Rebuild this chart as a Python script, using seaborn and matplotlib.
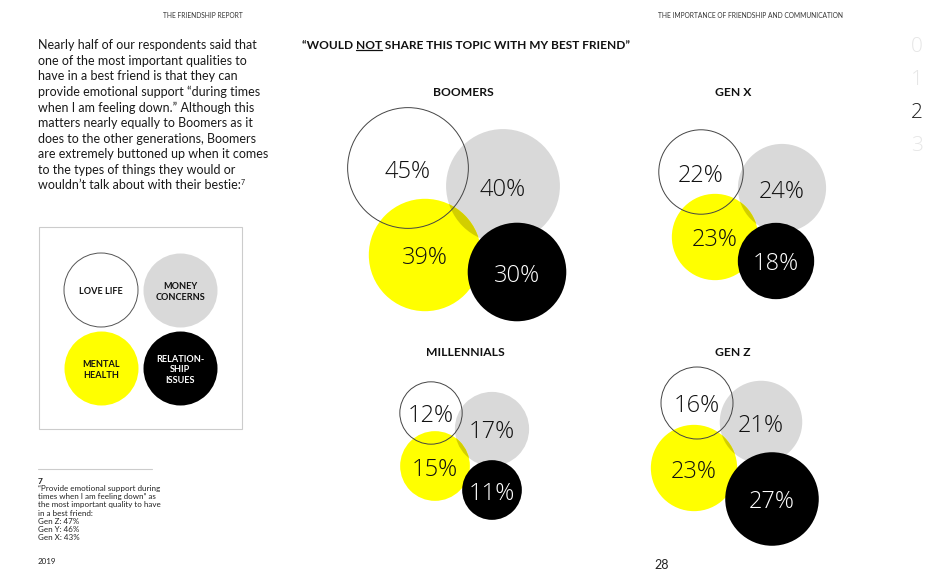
import matplotlib
matplotlib.use('Agg')
import matplotlib.pyplot as plt
from matplotlib.path import Path
import seaborn as sns
import pandas as pd

# --- data -------------------------------------------------------------
generations = ['BOOMERS', 'GEN X', 'MILLENNIALS', 'GEN Z']
topics = ['LOVE LIFE', 'MONEY CONCERNS', 'MENTAL HEALTH', 'RELATIONSHIP ISSUES']
love_life = [45, 22, 12, 16]
money_concerns = [40, 24, 17, 21]
mental_health = [39, 23, 15, 23]
relationship_issues = [30, 18, 11, 27]
legend_labels = ['LOVE LIFE', 'MONEY\nCONCERNS', 'MENTAL\nHEALTH', 'RELATION-\nSHIP\nISSUES']

intro_lines = [
    'Nearly half of our respondents said that',
    'one of the most important qualities to',
    'have in a best friend is that they can',
    'provide emotional support \u201cduring times',
    'when I am feeling down.\u201d Although this',
    'matters nearly equally to Boomers as it',
    'does to the other generations, Boomers',
    'are extremely buttoned up when it comes',
    'to the types of things they would or',
    'wouldn\u2019t talk about with their bestie:',
]
footnote_lines = [
    '\u201cProvide emotional support during',
    'times when I am feeling down\u201d as',
    'the most important quality to have',
    'in a best friend:',
    'Gen Z: 47%',
    'Gen Y: 46%',
    'Gen X: 43%',
]

# --- layout (pixel space, y downwards) --------------------------------
panel_title_xy = {'BOOMERS': (463, 92), 'GEN X': (733, 92),
                  'MILLENNIALS': (465, 353), 'GEN Z': (733, 353)}
# circle offsets from the panel title, one per topic slot
slot_offsets = {
    'BOOMERS': [(-55, 76), (40, 94), (-38, 163), (54, 180)],
    'GEN X': [(-32, 80), (49, 96), (-18, 145), (43, 169)],
    'MILLENNIALS': [(-34, 60), (27, 76), (-30, 113), (27, 137)],
    'GEN Z': [(-36, 50), (28, 69), (-39, 115), (39, 146)],
}
legend_xy = [(101, 290), (180, 290), (101, 368), (180, 368)]
K = 9.0                       # px of radius per sqrt(percent)
PT = 72 / 100                 # points per pixel at dpi 100
S_PER_PCT = (2 * K * PT) ** 2  # marker area (pt^2) per percent

GRAY, YELLOW, OLIVE, BLACK = '#d9d9d9', '#ffff00', '#d2ce00', '#000000'
FONT = ['Lato', 'DejaVu Sans']
THIN = ['Open Sans', 'DejaVu Sans']

values = {'LOVE LIFE': love_life, 'MONEY CONCERNS': money_concerns,
          'MENTAL HEALTH': mental_health, 'RELATIONSHIP ISSUES': relationship_issues}
rows = []
for gi, g in enumerate(generations):
    tx, ty = panel_title_xy[g]
    for ti, t in enumerate(topics):
        dx, dy = slot_offsets[g][ti]
        rows.append({'generation': g, 'topic': t, 'value': values[t][gi],
                     'x': tx + dx, 'y': ty + dy})
df = pd.DataFrame(rows)

sns.set_theme(style='white')
plt.rcParams['font.family'] = FONT

fig = plt.figure(figsize=(9.4, 5.87), dpi=100)
ax = fig.add_axes([0, 0, 1, 1])
ax.set_xlim(0, 940)
ax.set_ylim(587, 0)
ax.axis('off')


def bubbles(topic, color, z):
    sub = df[df.topic == topic]
    sns.scatterplot(data=sub, x='x', y='y', size='value', sizes=(0, S_PER_PCT * 50),
                    size_norm=(0, 50), color=color, linewidth=0, legend=False,
                    ax=ax, zorder=z)
    return ax.collections[-1]


bubbles('MONEY CONCERNS', GRAY, 2)
bubbles('MENTAL HEALTH', YELLOW, 3)
# darker tint where yellow lies over gray
overlap = bubbles('MENTAL HEALTH', OLIVE, 4)
gray_rows = df[df.topic == 'MONEY CONCERNS']
clip = Path.make_compound_path(*[Path.circle((r.x, r.y), K * r.value ** 0.5)
                                 for r in gray_rows.itertuples()])
overlap.set_clip_path(clip, ax.transData)
bubbles('RELATIONSHIP ISSUES', BLACK, 5)
ring = bubbles('LOVE LIFE', 'k', 6)
ring.set_facecolor('none')
ring.set_edgecolor('#444444')
ring.set_linewidth(0.7)

for r in df.itertuples():
    ax.text(r.x, r.y + 9.5, f'{r.value}%', ha='center', va='baseline', fontsize=17,
            family=THIN, fontweight='light', zorder=7,
            color='white' if r.topic == 'RELATIONSHIP ISSUES' else '#111111')

for g in generations:
    tx, ty = panel_title_xy[g]
    ax.text(tx, ty, g, ha='center', va='center', fontsize=8.7, fontweight='bold',
            color='#111111')

# title with underlined NOT
TS = 8.6
t1 = ax.text(302, 49, '\u201cWOULD ', ha='left', va='baseline', fontsize=TS,
             fontweight='bold', color='#111111')
t2 = ax.annotate('NOT', xy=(1, 0), xycoords=t1, ha='left', va='bottom',
                 fontsize=TS, fontweight='bold', color='#111111')
t3 = ax.annotate(' SHARE THIS TOPIC WITH MY BEST FRIEND\u201d', xy=(1, 0), xycoords=t2,
                 ha='left', va='bottom', fontsize=TS, fontweight='bold', color='#111111')

# legend box
ax.add_patch(plt.Rectangle((39, 227), 203, 202, fill=False, edgecolor='#cccccc',
                           linewidth=0.8))
leg = pd.DataFrame({'x': [p[0] for p in legend_xy], 'y': [p[1] for p in legend_xy],
                    'topic': topics})
leg_colors = ['none', GRAY, YELLOW, BLACK]
for i in range(4):
    sns.scatterplot(data=leg.iloc[[i]], x='x', y='y', s=(2 * 37 * PT) ** 2,
                    color=leg_colors[i] if i else 'k', linewidth=0, legend=False, ax=ax,
                    zorder=2)
    if i == 0:
        c = ax.collections[-1]
        c.set_facecolor('none')
        c.set_edgecolor('#555555')
        c.set_linewidth(0.7)
    ax.text(legend_xy[i][0], legend_xy[i][1] + 2, legend_labels[i], ha='center',
            va='center', fontsize=6.6, fontweight='bold', linespacing=1.25, zorder=3,
            color='white' if i == 3 else '#111111')

# intro paragraph
PS = 9.0
last = None
for i, line in enumerate(intro_lines):
    last = ax.text(38, 45 + i * 15.6, line, ha='left', va='center', fontsize=PS,
                   color='#1a1a1a')
ax.annotate('7', xy=(1, 0.75), xycoords=last, ha='left', va='center', fontsize=5,
            color='#1a1a1a')

# footnote
ax.plot([38, 152], [469, 469], color='#cccccc', linewidth=0.8)
ax.text(38, 481, '7', ha='left', va='center', fontsize=6, fontweight='bold',
        color='#222222')
for i, line in enumerate(footnote_lines):
    ax.text(38, 489 + i * 8, line, ha='left', va='center', fontsize=5.8,
            color='#222222')
ax.text(38, 562, '2019', ha='left', va='center', fontsize=5.8, color='#222222')
ax.text(662, 565, '28', ha='center', va='center', fontsize=9, color='#222222')

# running headers
ax.text(203, 16, 'THE FRIENDSHIP REPORT', ha='center', va='center', fontsize=4.8,
        color='#333333')
ax.text(750, 16, 'THE IMPORTANCE OF FRIENDSHIP AND COMMUNICATION', ha='center',
        va='center', fontsize=4.8, color='#333333')

# page nav digits
for i, d in enumerate('0123'):
    ax.text(917, 47 + i * 33, d, ha='center', va='center', fontsize=15,
            family=THIN, fontweight='light',
            color='#222222' if d == '2' else '#e6e6e6')

fig.canvas.draw()
bb = t2.get_window_extent()
inv = ax.transData.inverted()
(x0, yb), (x1, _) = inv.transform([[bb.x0, bb.y0 + 1.5], [bb.x1, bb.y1]])
ax.plot([x0, x1], [yb, yb], color='#111111', linewidth=0.9)

fig.savefig('out.png', dpi=100)
